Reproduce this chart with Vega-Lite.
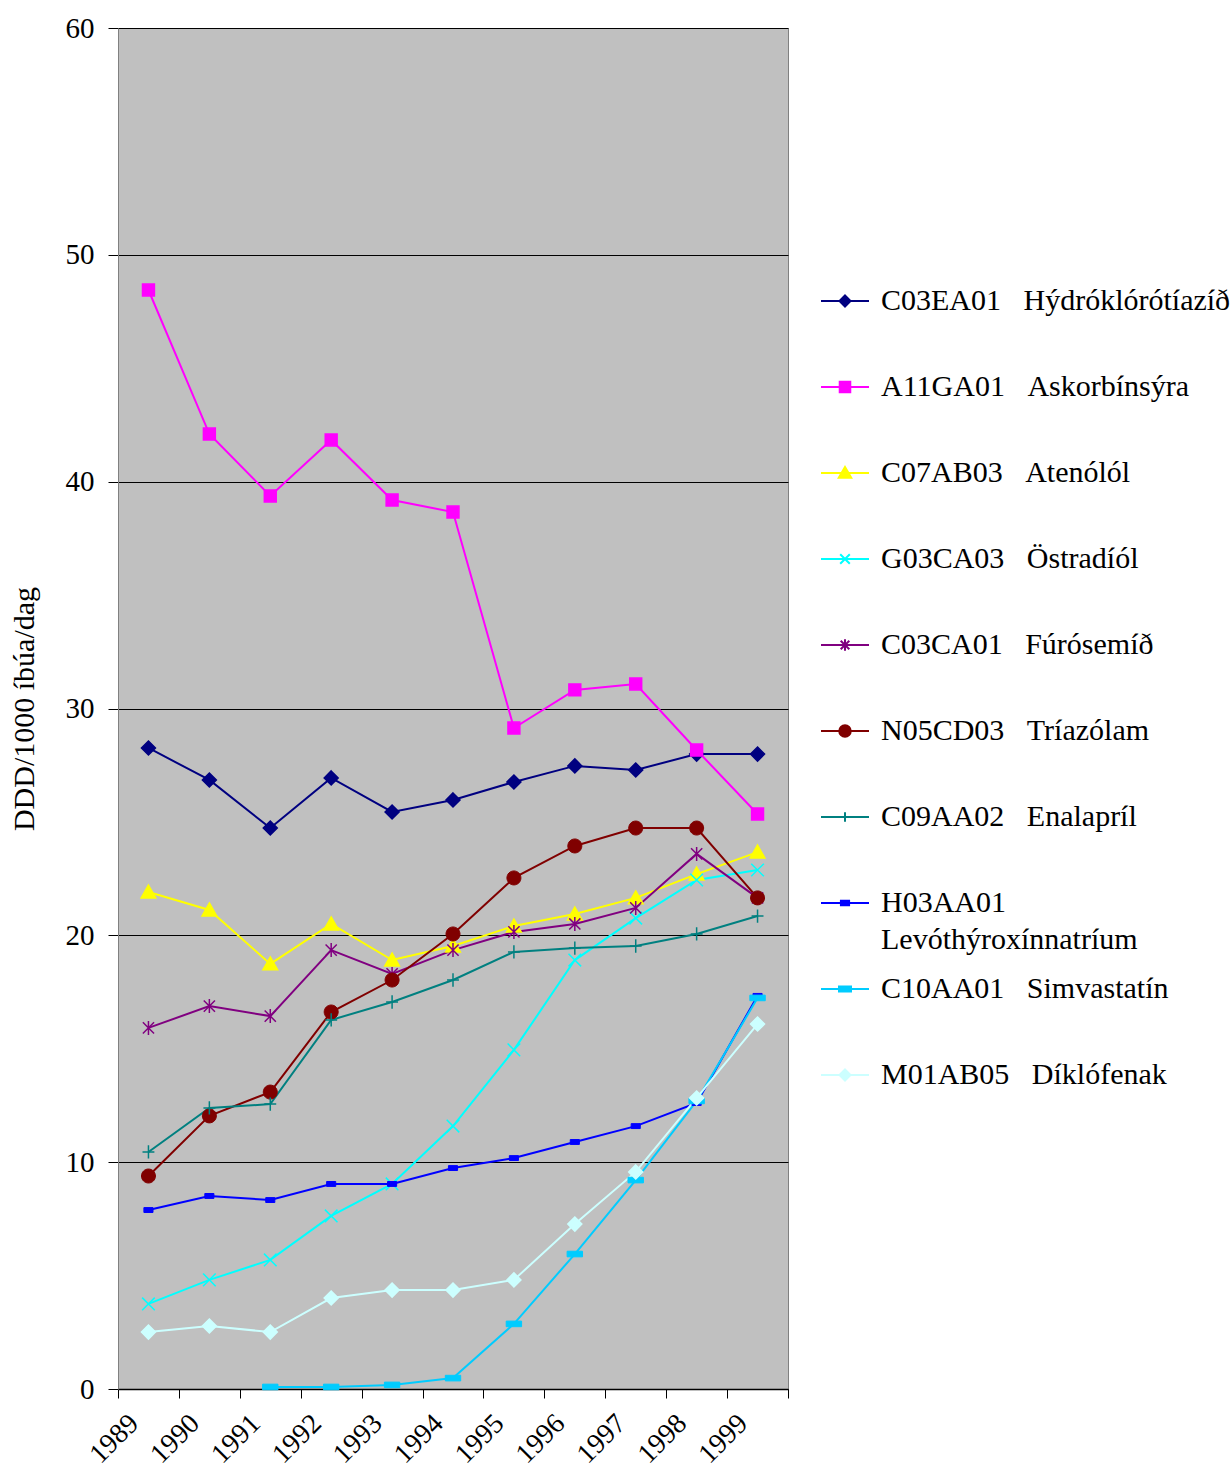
{
  "$schema": "https://vega.github.io/schema/vega-lite/v6.json",
  "autosize": {"type": "none"},
  "padding": {"left": 118, "top": 28, "right": 443, "bottom": 83},
  "width": 670,
  "height": 1361,
  "background": "white",
  "config": {
    "view": {"fill": "#C0C0C0", "stroke": "#808080", "strokeWidth": 1},
    "font": "Liberation Serif"
  },
  "data": {
    "values": [
      {"drug": "C03EA01\u00a0\u00a0\u00a0Hýdróklórótíazíð", "year": 1989, "value": 28.26},
      {"drug": "C03EA01\u00a0\u00a0\u00a0Hýdróklórótíazíð", "year": 1990, "value": 26.85},
      {"drug": "C03EA01\u00a0\u00a0\u00a0Hýdróklórótíazíð", "year": 1991, "value": 24.73},
      {"drug": "C03EA01\u00a0\u00a0\u00a0Hýdróklórótíazíð", "year": 1992, "value": 26.94},
      {"drug": "C03EA01\u00a0\u00a0\u00a0Hýdróklórótíazíð", "year": 1993, "value": 25.44},
      {"drug": "C03EA01\u00a0\u00a0\u00a0Hýdróklórótíazíð", "year": 1994, "value": 25.97},
      {"drug": "C03EA01\u00a0\u00a0\u00a0Hýdróklórótíazíð", "year": 1995, "value": 26.76},
      {"drug": "C03EA01\u00a0\u00a0\u00a0Hýdróklórótíazíð", "year": 1996, "value": 27.47},
      {"drug": "C03EA01\u00a0\u00a0\u00a0Hýdróklórótíazíð", "year": 1997, "value": 27.29},
      {"drug": "C03EA01\u00a0\u00a0\u00a0Hýdróklórótíazíð", "year": 1998, "value": 27.99},
      {"drug": "C03EA01\u00a0\u00a0\u00a0Hýdróklórótíazíð", "year": 1999, "value": 27.99},

      {"drug": "A11GA01\u00a0\u00a0\u00a0Askorbínsýra", "year": 1989, "value": 48.45},
      {"drug": "A11GA01\u00a0\u00a0\u00a0Askorbínsýra", "year": 1990, "value": 42.10},
      {"drug": "A11GA01\u00a0\u00a0\u00a0Askorbínsýra", "year": 1991, "value": 39.37},
      {"drug": "A11GA01\u00a0\u00a0\u00a0Askorbínsýra", "year": 1992, "value": 41.84},
      {"drug": "A11GA01\u00a0\u00a0\u00a0Askorbínsýra", "year": 1993, "value": 39.19},
      {"drug": "A11GA01\u00a0\u00a0\u00a0Askorbínsýra", "year": 1994, "value": 38.66},
      {"drug": "A11GA01\u00a0\u00a0\u00a0Askorbínsýra", "year": 1995, "value": 29.14},
      {"drug": "A11GA01\u00a0\u00a0\u00a0Askorbínsýra", "year": 1996, "value": 30.82},
      {"drug": "A11GA01\u00a0\u00a0\u00a0Askorbínsýra", "year": 1997, "value": 31.08},
      {"drug": "A11GA01\u00a0\u00a0\u00a0Askorbínsýra", "year": 1998, "value": 28.17},
      {"drug": "A11GA01\u00a0\u00a0\u00a0Askorbínsýra", "year": 1999, "value": 25.35},

      {"drug": "C07AB03\u00a0\u00a0\u00a0Atenólól", "year": 1989, "value": 21.91},
      {"drug": "C07AB03\u00a0\u00a0\u00a0Atenólól", "year": 1990, "value": 21.12},
      {"drug": "C07AB03\u00a0\u00a0\u00a0Atenólól", "year": 1991, "value": 18.74},
      {"drug": "C07AB03\u00a0\u00a0\u00a0Atenólól", "year": 1992, "value": 20.50},
      {"drug": "C07AB03\u00a0\u00a0\u00a0Atenólól", "year": 1993, "value": 18.91},
      {"drug": "C07AB03\u00a0\u00a0\u00a0Atenólól", "year": 1994, "value": 19.53},
      {"drug": "C07AB03\u00a0\u00a0\u00a0Atenólól", "year": 1995, "value": 20.41},
      {"drug": "C07AB03\u00a0\u00a0\u00a0Atenólól", "year": 1996, "value": 20.94},
      {"drug": "C07AB03\u00a0\u00a0\u00a0Atenólól", "year": 1997, "value": 21.65},
      {"drug": "C07AB03\u00a0\u00a0\u00a0Atenólól", "year": 1998, "value": 22.70},
      {"drug": "C07AB03\u00a0\u00a0\u00a0Atenólól", "year": 1999, "value": 23.67},

      {"drug": "G03CA03\u00a0\u00a0\u00a0Östradíól", "year": 1989, "value": 3.75},
      {"drug": "G03CA03\u00a0\u00a0\u00a0Östradíól", "year": 1990, "value": 4.81},
      {"drug": "G03CA03\u00a0\u00a0\u00a0Östradíól", "year": 1991, "value": 5.69},
      {"drug": "G03CA03\u00a0\u00a0\u00a0Östradíól", "year": 1992, "value": 7.63},
      {"drug": "G03CA03\u00a0\u00a0\u00a0Östradíól", "year": 1993, "value": 9.04},
      {"drug": "G03CA03\u00a0\u00a0\u00a0Östradíól", "year": 1994, "value": 11.59},
      {"drug": "G03CA03\u00a0\u00a0\u00a0Östradíól", "year": 1995, "value": 14.95},
      {"drug": "G03CA03\u00a0\u00a0\u00a0Östradíól", "year": 1996, "value": 18.91},
      {"drug": "G03CA03\u00a0\u00a0\u00a0Östradíól", "year": 1997, "value": 20.76},
      {"drug": "G03CA03\u00a0\u00a0\u00a0Östradíól", "year": 1998, "value": 22.44},
      {"drug": "G03CA03\u00a0\u00a0\u00a0Östradíól", "year": 1999, "value": 22.88},

      {"drug": "C03CA01\u00a0\u00a0\u00a0Fúrósemíð", "year": 1989, "value": 15.92},
      {"drug": "C03CA01\u00a0\u00a0\u00a0Fúrósemíð", "year": 1990, "value": 16.88},
      {"drug": "C03CA01\u00a0\u00a0\u00a0Fúrósemíð", "year": 1991, "value": 16.44},
      {"drug": "C03CA01\u00a0\u00a0\u00a0Fúrósemíð", "year": 1992, "value": 19.35},
      {"drug": "C03CA01\u00a0\u00a0\u00a0Fúrósemíð", "year": 1993, "value": 18.30},
      {"drug": "C03CA01\u00a0\u00a0\u00a0Fúrósemíð", "year": 1994, "value": 19.35},
      {"drug": "C03CA01\u00a0\u00a0\u00a0Fúrósemíð", "year": 1995, "value": 20.15},
      {"drug": "C03CA01\u00a0\u00a0\u00a0Fúrósemíð", "year": 1996, "value": 20.50},
      {"drug": "C03CA01\u00a0\u00a0\u00a0Fúrósemíð", "year": 1997, "value": 21.21},
      {"drug": "C03CA01\u00a0\u00a0\u00a0Fúrósemíð", "year": 1998, "value": 23.59},
      {"drug": "C03CA01\u00a0\u00a0\u00a0Fúrósemíð", "year": 1999, "value": 21.65},

      {"drug": "N05CD03\u00a0\u00a0\u00a0Tríazólam", "year": 1989, "value": 9.39},
      {"drug": "N05CD03\u00a0\u00a0\u00a0Tríazólam", "year": 1990, "value": 12.04},
      {"drug": "N05CD03\u00a0\u00a0\u00a0Tríazólam", "year": 1991, "value": 13.09},
      {"drug": "N05CD03\u00a0\u00a0\u00a0Tríazólam", "year": 1992, "value": 16.62},
      {"drug": "N05CD03\u00a0\u00a0\u00a0Tríazólam", "year": 1993, "value": 18.03},
      {"drug": "N05CD03\u00a0\u00a0\u00a0Tríazólam", "year": 1994, "value": 20.06},
      {"drug": "N05CD03\u00a0\u00a0\u00a0Tríazólam", "year": 1995, "value": 22.53},
      {"drug": "N05CD03\u00a0\u00a0\u00a0Tríazólam", "year": 1996, "value": 23.94},
      {"drug": "N05CD03\u00a0\u00a0\u00a0Tríazólam", "year": 1997, "value": 24.73},
      {"drug": "N05CD03\u00a0\u00a0\u00a0Tríazólam", "year": 1998, "value": 24.73},
      {"drug": "N05CD03\u00a0\u00a0\u00a0Tríazólam", "year": 1999, "value": 21.65},

      {"drug": "C09AA02\u00a0\u00a0\u00a0Enalapríl", "year": 1989, "value": 10.45},
      {"drug": "C09AA02\u00a0\u00a0\u00a0Enalapríl", "year": 1990, "value": 12.39},
      {"drug": "C09AA02\u00a0\u00a0\u00a0Enalapríl", "year": 1991, "value": 12.56},
      {"drug": "C09AA02\u00a0\u00a0\u00a0Enalapríl", "year": 1992, "value": 16.27},
      {"drug": "C09AA02\u00a0\u00a0\u00a0Enalapríl", "year": 1993, "value": 17.06},
      {"drug": "C09AA02\u00a0\u00a0\u00a0Enalapríl", "year": 1994, "value": 18.03},
      {"drug": "C09AA02\u00a0\u00a0\u00a0Enalapríl", "year": 1995, "value": 19.27},
      {"drug": "C09AA02\u00a0\u00a0\u00a0Enalapríl", "year": 1996, "value": 19.44},
      {"drug": "C09AA02\u00a0\u00a0\u00a0Enalapríl", "year": 1997, "value": 19.53},
      {"drug": "C09AA02\u00a0\u00a0\u00a0Enalapríl", "year": 1998, "value": 20.06},
      {"drug": "C09AA02\u00a0\u00a0\u00a0Enalapríl", "year": 1999, "value": 20.85},

      {"drug": "H03AA01\u00a0\u00a0\u00a0Levóthýroxínnatríum", "year": 1989, "value": 7.89},
      {"drug": "H03AA01\u00a0\u00a0\u00a0Levóthýroxínnatríum", "year": 1990, "value": 8.51},
      {"drug": "H03AA01\u00a0\u00a0\u00a0Levóthýroxínnatríum", "year": 1991, "value": 8.33},
      {"drug": "H03AA01\u00a0\u00a0\u00a0Levóthýroxínnatríum", "year": 1992, "value": 9.04},
      {"drug": "H03AA01\u00a0\u00a0\u00a0Levóthýroxínnatríum", "year": 1993, "value": 9.04},
      {"drug": "H03AA01\u00a0\u00a0\u00a0Levóthýroxínnatríum", "year": 1994, "value": 9.74},
      {"drug": "H03AA01\u00a0\u00a0\u00a0Levóthýroxínnatríum", "year": 1995, "value": 10.18},
      {"drug": "H03AA01\u00a0\u00a0\u00a0Levóthýroxínnatríum", "year": 1996, "value": 10.89},
      {"drug": "H03AA01\u00a0\u00a0\u00a0Levóthýroxínnatríum", "year": 1997, "value": 11.59},
      {"drug": "H03AA01\u00a0\u00a0\u00a0Levóthýroxínnatríum", "year": 1998, "value": 12.61},
      {"drug": "H03AA01\u00a0\u00a0\u00a0Levóthýroxínnatríum", "year": 1999, "value": 17.33},

      {"drug": "C10AA01\u00a0\u00a0\u00a0Simvastatín", "year": 1991, "value": 0.09},
      {"drug": "C10AA01\u00a0\u00a0\u00a0Simvastatín", "year": 1992, "value": 0.09},
      {"drug": "C10AA01\u00a0\u00a0\u00a0Simvastatín", "year": 1993, "value": 0.18},
      {"drug": "C10AA01\u00a0\u00a0\u00a0Simvastatín", "year": 1994, "value": 0.48},
      {"drug": "C10AA01\u00a0\u00a0\u00a0Simvastatín", "year": 1995, "value": 2.87},
      {"drug": "C10AA01\u00a0\u00a0\u00a0Simvastatín", "year": 1996, "value": 5.95},
      {"drug": "C10AA01\u00a0\u00a0\u00a0Simvastatín", "year": 1997, "value": 9.21},
      {"drug": "C10AA01\u00a0\u00a0\u00a0Simvastatín", "year": 1998, "value": 12.70},
      {"drug": "C10AA01\u00a0\u00a0\u00a0Simvastatín", "year": 1999, "value": 17.24},

      {"drug": "M01AB05\u00a0\u00a0\u00a0Díklófenak", "year": 1989, "value": 2.51},
      {"drug": "M01AB05\u00a0\u00a0\u00a0Díklófenak", "year": 1990, "value": 2.78},
      {"drug": "M01AB05\u00a0\u00a0\u00a0Díklófenak", "year": 1991, "value": 2.51},
      {"drug": "M01AB05\u00a0\u00a0\u00a0Díklófenak", "year": 1992, "value": 4.01},
      {"drug": "M01AB05\u00a0\u00a0\u00a0Díklófenak", "year": 1993, "value": 4.36},
      {"drug": "M01AB05\u00a0\u00a0\u00a0Díklófenak", "year": 1994, "value": 4.36},
      {"drug": "M01AB05\u00a0\u00a0\u00a0Díklófenak", "year": 1995, "value": 4.81},
      {"drug": "M01AB05\u00a0\u00a0\u00a0Díklófenak", "year": 1996, "value": 7.27},
      {"drug": "M01AB05\u00a0\u00a0\u00a0Díklófenak", "year": 1997, "value": 9.57},
      {"drug": "M01AB05\u00a0\u00a0\u00a0Díklófenak", "year": 1998, "value": 12.83},
      {"drug": "M01AB05\u00a0\u00a0\u00a0Díklófenak", "year": 1999, "value": 16.09}
    ]
  },
  "encoding": {
    "x": {
      "field": "year",
      "type": "quantitative",
      "scale": {"domain": [1988.5, 1999.5], "nice": false, "zero": false},
      "axis": {
        "title": null,
        "values": [1988.5, 1989.5, 1990.5, 1991.5, 1992.5, 1993.5, 1994.5, 1995.5, 1996.5, 1997.5, 1998.5, 1999.5],
        "labelExpr": "datum.value < 1999 ? toString(datum.value + 0.5) : ''",
        "labelAngle": -45,
        "labelFont": "Liberation Serif",
        "labelFontSize": 28,
        "labelColor": "black",
        "labelOffset": 6,
        "labelPadding": 11,
        "labelOverlap": false,
        "labelFlush": false,
        "tickColor": "black",
        "tickSize": 9,
        "domainColor": "black",
        "domainWidth": 1.5,
        "grid": false
      }
    },
    "y": {
      "field": "value",
      "type": "quantitative",
      "scale": {"domain": [0, 60], "nice": false, "zero": true},
      "axis": {
        "title": "DDD/1000 íbúa/dag",
        "titleFont": "Liberation Serif",
        "titleFontSize": 30,
        "titleFontWeight": "normal",
        "titleColor": "black",
        "titlePadding": 26,
        "values": [0, 10, 20, 30, 40, 50, 60],
        "labelFont": "Liberation Serif",
        "labelFontSize": 29,
        "labelColor": "black",
        "labelPadding": 14,
        "tickColor": "black",
        "tickSize": 10,
        "domainColor": "#808080",
        "grid": true,
        "gridColor": "black",
        "gridWidth": 1,
        "gridOpacity": 1
      }
    }
  },
  "layer": [
    {
      "mark": {"type": "line", "strokeWidth": 2},
      "encoding": {
        "color": {
          "field": "drug",
          "type": "nominal",
          "sort": null,
          "scale": {
            "domain": ["C03EA01\u00a0\u00a0\u00a0Hýdróklórótíazíð", "A11GA01\u00a0\u00a0\u00a0Askorbínsýra", "C07AB03\u00a0\u00a0\u00a0Atenólól", "G03CA03\u00a0\u00a0\u00a0Östradíól", "C03CA01\u00a0\u00a0\u00a0Fúrósemíð", "N05CD03\u00a0\u00a0\u00a0Tríazólam", "C09AA02\u00a0\u00a0\u00a0Enalapríl", "H03AA01\u00a0\u00a0\u00a0Levóthýroxínnatríum", "C10AA01\u00a0\u00a0\u00a0Simvastatín", "M01AB05\u00a0\u00a0\u00a0Díklófenak"],
            "range": ["#000080", "#FF00FF", "#FFFF00", "#00FFFF", "#800080", "#800000", "#008080", "#0000FF", "#00CCFF", "#CCFFFF"]
          },
          "legend": {
            "title": null,
            "orient": "none",
            "legendX": 702,
            "legendY": 248,
            "padding": 0,
            "symbolSize": 2304,
            "symbolStrokeWidth": 2,
            "labelFont": "Liberation Serif",
            "labelFontSize": 30,
            "labelColor": "black",
            "labelOffset": 11,
            "labelLimit": 0,
            "gridAlign": "all",
            "rowPadding": 9,
            "labelExpr": "indexof(datum.label, 'H03AA01') == 0 ? ['H03AA01', 'Levóthýroxínnatríum'] : datum.label",
            "encode": {
              "symbols": {
                "update": {
                  "shape": {"signal": "['M-1,0L1,0M0,-0.23L0.23,0L0,0.23L-0.23,0Z', 'M-1,0L1,0M-0.22,-0.22L0.22,-0.22L0.22,0.22L-0.22,0.22Z', 'M-1,0L1,0M0,-0.25L0.26,0.2L-0.26,0.2Z', 'M-1,0L1,0M-0.2,-0.2L0.2,0.2M-0.2,0.2L0.2,-0.2', 'M-1,0L1,0M-0.18,-0.18L0.18,0.18M-0.18,0.18L0.18,-0.18M0,-0.24L0,0.24', 'M-1,0L1,0M-0.24,0A0.24,0.24 0 1,0 0.24,0A0.24,0.24 0 1,0 -0.24,0Z', 'M-1,0L1,0M0,-0.2L0,0.2', 'M-1,0L1,0M-0.17,-0.09L0.17,-0.09L0.17,0.09L-0.17,0.09Z', 'M-1,0L1,0M-0.25,-0.1L0.25,-0.1L0.25,0.1L-0.25,0.1Z', 'M-1,0L1,0M0,-0.23L0.23,0L0,0.23L-0.23,0Z'][datum.index]"},
                  "fill": {"scale": "color", "field": "value"},
                  "stroke": {"scale": "color", "field": "value"},
                  "strokeWidth": {"value": 2},
                  "opacity": {"value": 1}
                }
              },
              "labels": {
                "update": {
                  "lineHeight": {"value": 37}
                }
              }
            }
          }
        }
      }
    },
    {
      "transform": [{"filter": {"field": "drug", "equal": "C03EA01\u00a0\u00a0\u00a0Hýdróklórótíazíð"}}],
      "mark": {"type": "point", "filled": true, "size": 196, "strokeWidth": 1.5, "opacity": 1, "shape": "M0,-1L1,0L0,1L-1,0Z", "fill": "#000080", "stroke": "#000080"}
    },
    {
      "transform": [{"filter": {"field": "drug", "equal": "A11GA01\u00a0\u00a0\u00a0Askorbínsýra"}}],
      "mark": {"type": "point", "filled": true, "size": 196, "strokeWidth": 1.5, "opacity": 1, "shape": "M-0.85,-0.85L0.85,-0.85L0.85,0.85L-0.85,0.85Z", "fill": "#FF00FF", "stroke": "#FF00FF"}
    },
    {
      "transform": [{"filter": {"field": "drug", "equal": "C07AB03\u00a0\u00a0\u00a0Atenólól"}}],
      "mark": {"type": "point", "filled": true, "size": 196, "strokeWidth": 1.5, "opacity": 1, "shape": "M0,-1L1.05,0.85L-1.05,0.85Z", "fill": "#FFFF00", "stroke": "#FFFF00"}
    },
    {
      "transform": [{"filter": {"field": "drug", "equal": "G03CA03\u00a0\u00a0\u00a0Östradíól"}}],
      "mark": {"type": "point", "filled": true, "size": 196, "strokeWidth": 1.5, "opacity": 1, "shape": "M-0.9,-0.9L0.9,0.9M-0.9,0.9L0.9,-0.9", "fill": "#00FFFF", "stroke": "#00FFFF"}
    },
    {
      "transform": [{"filter": {"field": "drug", "equal": "C03CA01\u00a0\u00a0\u00a0Fúrósemíð"}}],
      "mark": {"type": "point", "filled": true, "size": 196, "strokeWidth": 1.5, "opacity": 1, "shape": "M-0.8,-0.8L0.8,0.8M-0.8,0.8L0.8,-0.8M0,-1L0,1", "fill": "#800080", "stroke": "#800080"}
    },
    {
      "transform": [{"filter": {"field": "drug", "equal": "N05CD03\u00a0\u00a0\u00a0Tríazólam"}}],
      "mark": {"type": "point", "filled": true, "size": 196, "strokeWidth": 1, "opacity": 1, "shape": "M-1,0A1,1 0 1,0 1,0A1,1 0 1,0 -1,0Z", "fill": "#800000", "stroke": "#800000"}
    },
    {
      "transform": [{"filter": {"field": "drug", "equal": "C09AA02\u00a0\u00a0\u00a0Enalapríl"}}],
      "mark": {"type": "point", "filled": true, "size": 196, "strokeWidth": 1.5, "opacity": 1, "shape": "M-0.85,0L0.85,0M0,-0.95L0,0.95", "fill": "#008080", "stroke": "#008080"}
    },
    {
      "transform": [{"filter": {"field": "drug", "equal": "H03AA01\u00a0\u00a0\u00a0Levóthýroxínnatríum"}}],
      "mark": {"type": "point", "filled": true, "size": 196, "strokeWidth": 1, "opacity": 1, "shape": "M-0.65,-0.35L0.65,-0.35L0.65,0.35L-0.65,0.35Z", "fill": "#0000FF", "stroke": "#0000FF"}
    },
    {
      "transform": [{"filter": {"field": "drug", "equal": "C10AA01\u00a0\u00a0\u00a0Simvastatín"}}],
      "mark": {"type": "point", "filled": true, "size": 196, "strokeWidth": 1, "opacity": 1, "shape": "M-1.1,-0.4L1.1,-0.4L1.1,0.4L-1.1,0.4Z", "fill": "#00CCFF", "stroke": "#00CCFF"}
    },
    {
      "transform": [{"filter": {"field": "drug", "equal": "M01AB05\u00a0\u00a0\u00a0Díklófenak"}}],
      "mark": {"type": "point", "filled": true, "size": 196, "strokeWidth": 1.5, "opacity": 1, "shape": "M0,-1L1,0L0,1L-1,0Z", "fill": "#CCFFFF", "stroke": "#CCFFFF"}
    }
  ]
}
